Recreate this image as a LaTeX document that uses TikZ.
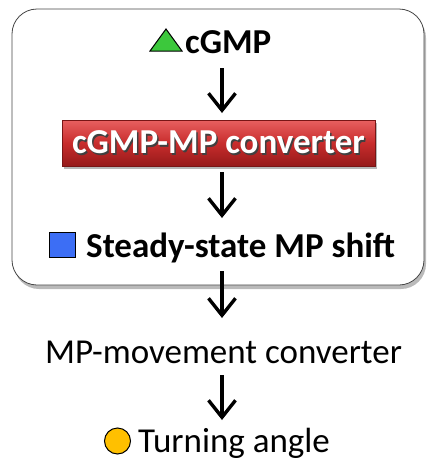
\documentclass[tikz,border=0pt]{standalone}
\usepackage{fontspec}
\setmainfont{Carlito}
\usetikzlibrary{arrows.meta,shadows,calc}
\definecolor{panelline}{RGB}{70,70,70}
\definecolor{redtop}{RGB}{232,96,96}
\definecolor{redmid}{RGB}{200,44,44}
\definecolor{redbot}{RGB}{150,26,26}
\definecolor{trigreen}{RGB}{60,200,60}
\definecolor{sqblue}{RGB}{60,110,245}
\definecolor{dotorange}{RGB}{255,192,0}
\newcommand{\shadowtext}[1]{\makebox[0pt][l]{\hspace{1.5pt}\raisebox{-2pt}{\color{black!75}#1}}#1}
\tikzset{
  flow/.style={line width=3.4pt,-{Straight Barb[length=17pt,width=27pt,line width=3.4pt]}},
  label/.style={font=\fontsize{35}{40}\selectfont, inner sep=0pt},
  boldlabel/.style={label, font=\fontsize{35}{40}\selectfont\bfseries},
  panel/.style={draw=panelline, line width=0.8pt, fill=white, rounded corners=25pt,
    drop shadow={shadow xshift=2pt, shadow yshift=-4pt, opacity=0.45, fill=black!60}},
  redbox/.style={draw=redbot!80!black, line width=0.6pt, top color=redtop, bottom color=redbot,
    middle color=redmid,
    drop shadow={shadow xshift=2pt, shadow yshift=-3pt, opacity=0.4, fill=black!70}},
  marker/.style={draw=black, line width=1pt}
}
\begin{document}
\begin{tikzpicture}[x=1pt,y=-1pt]
  \useasboundingbox (0,0) rectangle (427,461);
  % framed panel
  \draw[panel] (12,9) rectangle (424,285);

  % top input
  \filldraw[marker, fill=trigreen] (150,51) -- (182,51) -- (166,29) -- cycle;
  \node[boldlabel, anchor=base west] (cgmp) at (185,53) {cGMP};

  % converter bar with shadowed white caption
  \node[redbox, minimum width=313pt, minimum height=46pt, inner sep=0pt] (conv) at (218.5,143) {};
  \node[boldlabel, text=white, anchor=center] (convtext) at (conv.center) {\shadowtext{cGMP-MP converter}};

  % steady state output
  \filldraw[marker, fill=sqblue] (49,232) rectangle (75,257);
  \node[boldlabel, anchor=base west] (shift) at (86,257) {Steady-state MP shift};

  % outside the panel
  \node[label, anchor=base] (move) at (223.5,363) {MP-movement converter};
  \filldraw[marker, fill=dotorange] (117.5,441) circle (13);
  \node[label, anchor=base west] (turn) at (138,452) {Turning angle};

  % arrow end points
  \coordinate (a1s) at (222,68);  \coordinate (a1e) at (222,113);
  \coordinate (a2s) at (222,172); \coordinate (a2e) at (222,218);
  \coordinate (a3s) at (222,271); \coordinate (a3e) at (222,318);
  \coordinate (a4s) at (222,375); \coordinate (a4e) at (222,420);
  \draw[flow] (a1s) -- (a1e);
  \draw[flow] (a2s) -- (a2e);
  \draw[flow] (a3s) -- (a3e);
  \draw[flow] (a4s) -- (a4e);
\end{tikzpicture}
\end{document}
